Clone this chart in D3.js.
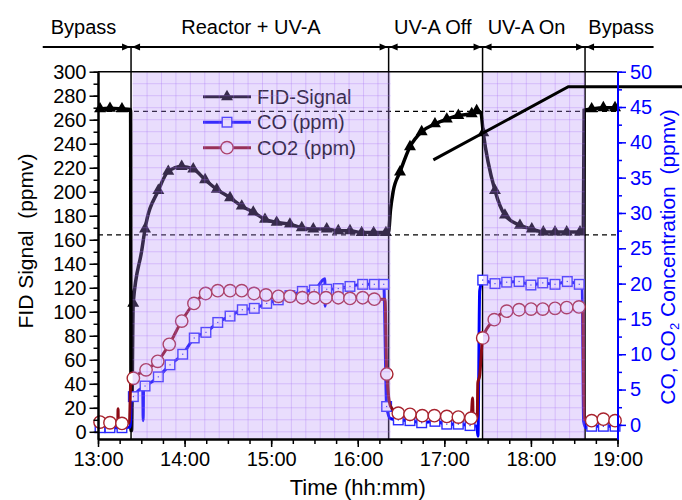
<!DOCTYPE html>
<html>
<head>
<meta charset="utf-8">
<script src="https://cdn.jsdelivr.net/npm/d3@7"></script>
<style>
  body { margin: 0; background: #fff; }
  svg { display: block; font-family: "Liberation Sans", Arial, sans-serif; }
</style>
</head>
<body>
<svg id="chart" width="682" height="500"></svg>
<script>
// all times are minutes after 13:00

// FID signal (left axis), points carrying a triangle
const fidT = [1.4, 8.3, 16.6,
  24.4, 32.6, 41.8, 48.7, 58, 66, 74.2, 82.3, 91.5, 99.6, 107.6, 115.7, 123.8, 133, 141.2, 149.2, 158.5, 166.5, 174.6, 182.7, 191, 199.5,
  209.3, 216.2, 224.3, 233.5, 241.7, 249.7, 259, 262.4,
  267, 275.1, 282, 292.4, 300.6, 308.6, 316.7, 324.8, 334,
  342.1, 350.2, 358.3];
const fidV = [269, 269.5, 269,
  107, 169, 201, 217, 221, 219, 210, 202, 195, 188, 183, 177, 174.5, 173, 170, 169, 169, 167.5, 167.5, 166, 166, 166,
  216.5, 237.5, 250, 256.5, 260.5, 263.5, 265, 267.5,
  249, 201, 180.5, 172, 169, 166.5, 166.5, 166.5, 166.5,
  269, 270, 270];
// FID line only points (switching edges)
const fidEdgeT = [0, 22.6, 22.9, 23.3, 30.3, 201.3, 202.7, 204.5, 265.3, 336.3, 336.9, 360];
const fidEdgeV = [268.5, 268.5, 1, 1, 151, 166, 185, 200, 266, 166.5, 268, 269];

// CO (right axis), points carrying a square
const coT = [1.4, 8.3, 16.6,
  24.5, 32.6, 41.8, 49.9, 58.7, 66.7, 74.8, 83, 91.5, 100, 108.3, 116.9, 124.9, 133, 141.6, 149.9, 158.5, 166.5, 174.6, 183.4, 191.5, 198, 200,
  208.1, 216.2, 224.3, 233.5, 241.7, 249.7, 257.8,
  266.6, 275.1, 283.2, 291.8, 300, 308.2, 316.7, 325.2, 333.5,
  342.1, 350.2, 358.3];
const coV = [-0.4, -0.4, -0.4,
  4.0, 5.5, 6.8, 8.5, 10.0, 12.3, 13.1, 14.5, 15.4, 16.3, 16.5, 17.2, 17.7, 18.3, 18.9, 19.1, 19.2, 19.3, 19.6, 19.9, 19.9, 19.9, 2.6,
  0.7, 0.6, 0.3, 0.5, 0.1, 0.1, -0.1,
  20.5, 20.0, 20.2, 20.3, 19.8, 20.1, 19.9, 20.3, 19.9,
  -0.2, -0.2, -0.2];
const coEdgeT = [0, 22.5, 23.0, 31.0, 31.3, 31.6, 157.2, 157.4, 157.6, 202.5, 262.5, 263.3, 264.5, 335.5, 336.5, 338, 360];
const coEdgeV = [-0.4, -0.3, 3.5, 5.2, 0.6, 5.4, 20.7, 16.8, 19.2, 0.9, -0.2, -1.6, 19, 19.8, 0.5, -0.4, -0.2];

// CO2 (right axis), points carrying a circle
const co2T = [1.4, 8.3, 16.6,
  24.5, 33.3, 41.4, 49.4, 58.0, 66.5, 74.6, 83.0, 91.5, 99.6, 108.1, 116.4, 125.0, 133.1, 141.6, 149.7, 158.0, 166.5, 174.6, 183.4, 191.5, 200.1,
  208.1, 216.2, 224.7, 233.1, 241.7, 249.7, 258.5,
  266.6, 274.6, 283.2, 291.8, 300.1, 308.2, 316.7, 324.8, 333.3,
  342.1, 350.2, 358.3];
const co2V = [0.4, 0.3, 0.2,
  6.6, 7.8, 9.0, 11.4, 14.7, 17.2, 18.6, 19.0, 19.0, 19.0, 18.6, 18.4, 18.2, 18.2, 18.0, 18.0, 18.0, 18.0, 17.9, 18.0, 17.8, 7.2,
  1.65, 1.5, 1.3, 1.3, 1.2, 1.1, 0.95,
  12.3, 14.9, 16.1, 16.3, 16.4, 16.4, 16.5, 16.6, 16.7,
  0.6, 0.8, 0.6];
const co2EdgeT = [0, 13.7, 13.9, 14.1, 21.8, 22.6, 198.9, 202.8, 259.6, 260, 262.8, 263.2, 264.5, 336.0, 336.8, 360];
const co2EdgeV = [0.4, 0.3, 2.3, 0.3, 0.3, 5.5, 17.8, 2.6, 3.8, 0.9, 0.9, 5.9, 7, 16.7, 0.8, 0.5];

// phases of the run
const phaseLabels = ["Bypass", "Reactor + UV-A", "UV-A Off", "UV-A On", "Bypass"];
const phaseLabelT = [-10, 106, 232, 297, 362.5];
const phaseBreaks = [22.9, 201.4, 266.5, 337.5];
const headerSpan = [-38.3, 385];
const shadeStart = [24.0, 266.8];
const shadeEnd = [202.7, 337.2];

// reference levels (FID) and the pointer line
const refLevels = [267, 164];
const pointerT = [232.4, 325.9, 406];
const pointerV = [226.5, 287.5, 287.5];

const xTicks = d3.range(0, 361, 60);
const leftTicks = d3.range(0, 301, 20);
const rightTicks = d3.range(0, 51, 5);

const plot = {left: 98, right: 617.5, top: 71.7, bottom: 439};

const svg = d3.select("#chart");

const x = d3.scaleLinear().domain([0, 360]).range([plot.left, plot.right]);
const yL = d3.scaleLinear().domain([-6, 300]).range([plot.bottom, plot.top]);
const yR = d3.scaleLinear().domain([-2, 50]).range([plot.bottom, plot.top]);

const zip = (t, v) => t.map((d, i) => ({t: d, v: v[i]}));
const withEdges = (t, v, et, ev) => zip(t, v).concat(zip(et, ev)).sort((a, b) => a.t - b.t);

// header with phase names and dividers
const hdrY = 47;
svg.append("line")
    .attr("x1", x(headerSpan[0])).attr("x2", x(headerSpan[1]))
    .attr("y1", hdrY).attr("y2", hdrY)
    .attr("stroke", "#000").attr("stroke-width", 2);

phaseBreaks.forEach(b => {
    let bx = x(b);
    svg.append("line")
        .attr("x1", bx).attr("x2", bx)
        .attr("y1", hdrY).attr("y2", plot.bottom)
        .attr("stroke", "#000").attr("stroke-width", 1.5);
    svg.append("path")
        .attr("d", `M${bx - 1},${hdrY}L${bx - 9},${hdrY - 3.5}L${bx - 9},${hdrY + 3.5}Z`);
    svg.append("path")
        .attr("d", `M${bx + 1},${hdrY}L${bx + 9},${hdrY - 3.5}L${bx + 9},${hdrY + 3.5}Z`);
});

svg.selectAll(".phase").data(phaseLabels).enter().append("text")
    .attr("class", "phase")
    .attr("x", (d, i) => x(phaseLabelT[i]))
    .attr("y", 34)
    .attr("text-anchor", "middle")
    .attr("font-size", 20)
    .text(d => d);

// dashed reference levels
svg.selectAll(".ref").data(refLevels).enter().append("line")
    .attr("x1", plot.left).attr("x2", plot.right)
    .attr("y1", d => yL(d)).attr("y2", d => yL(d))
    .attr("stroke", "#000").attr("stroke-width", 1.2)
    .attr("stroke-dasharray", "5,4");

// series
const fidData = withEdges(fidT, fidV, fidEdgeT, fidEdgeV);
const coData = withEdges(coT, coV, coEdgeT, coEdgeV);
const co2Data = withEdges(co2T, co2V, co2EdgeT, co2EdgeV);

const lineL = d3.line().x(d => x(d.t)).y(d => yL(d.v)).curve(d3.curveMonotoneX);
const lineR = d3.line().x(d => x(d.t)).y(d => yR(d.v)).curve(d3.curveMonotoneX);

const tri = d3.symbol(d3.symbolTriangle, 62);

svg.append("path").datum(fidData)
    .attr("d", lineL).attr("fill", "none")
    .attr("stroke", "#000").attr("stroke-width", 3.5);
svg.selectAll(".fid").data(zip(fidT, fidV)).enter().append("path")
    .attr("d", tri)
    .attr("transform", d => `translate(${x(d.t)},${yL(d.v)})`)
    .attr("fill", "#000");

svg.append("path").datum(coData)
    .attr("d", lineR).attr("fill", "none")
    .attr("stroke", "#0000ff").attr("stroke-width", 3);
let sq = svg.selectAll(".co").data(zip(coT, coV)).enter().append("g")
    .attr("transform", d => `translate(${x(d.t)},${yR(d.v)})`);
sq.append("rect")
    .attr("x", -4.8).attr("y", -4.8).attr("width", 9.6).attr("height", 9.6)
    .attr("fill", "#fff").attr("stroke", "#2a2aff").attr("stroke-width", 1.4);
sq.append("rect")
    .attr("x", -0.6).attr("y", -0.6).attr("width", 1.2).attr("height", 1.2)
    .attr("fill", "#2a2aff");

svg.append("path").datum(co2Data)
    .attr("d", lineR).attr("fill", "none")
    .attr("stroke", "#8c0a14").attr("stroke-width", 3);
svg.selectAll(".co2").data(zip(co2T, co2V)).enter().append("circle")
    .attr("cx", d => x(d.t)).attr("cy", d => yR(d.v)).attr("r", 6.2)
    .attr("fill", "#fff").attr("stroke", "#a8232e").attr("stroke-width", 1.4);

// legend
const legend = [
    {name: "FID-Signal", color: "#000", mark: "tri"},
    {name: "CO (ppm)", color: "#0000ff", mark: "sq"},
    {name: "CO2 (ppm)", color: "#a8232e", mark: "circ"}
];
let lg = svg.selectAll(".lg").data(legend).enter().append("g")
    .attr("transform", (d, i) => `translate(203,${96.7 + i * 25.5})`);
lg.append("line")
    .attr("x1", 0).attr("x2", 48)
    .attr("stroke", d => d.mark === "circ" ? "#8c0a14" : d.color)
    .attr("stroke-width", 3);
lg.filter(d => d.mark === "tri").append("path")
    .attr("d", tri).attr("transform", "translate(24,0)").attr("fill", "#000");
lg.filter(d => d.mark === "sq").append("rect")
    .attr("x", 19.2).attr("y", -4.8).attr("width", 9.6).attr("height", 9.6)
    .attr("fill", "#fff").attr("stroke", "#2a2aff").attr("stroke-width", 1.4);
lg.filter(d => d.mark === "circ").append("circle")
    .attr("cx", 24).attr("r", 6.2)
    .attr("fill", "#fff").attr("stroke", "#a8232e").attr("stroke-width", 1.4);
lg.append("text")
    .attr("x", 54).attr("y", 7)
    .attr("font-size", 20)
    .attr("fill", "#000")
    .text(d => d.name);

// translucent purple phases with their grid, laid over the data
shadeStart.forEach((s, i) => {
    let e = shadeEnd[i];
    let g = svg.append("g");
    g.append("rect")
        .attr("x", x(s)).attr("y", plot.top)
        .attr("width", x(e) - x(s)).attr("height", plot.bottom - plot.top)
        .attr("fill", "rgb(181,141,250)").attr("fill-opacity", 0.3);
    g.selectAll(".gv").data(d3.range(s + 10, e, 10)).enter().append("line")
        .attr("x1", d => x(d)).attr("x2", d => x(d))
        .attr("y1", plot.top).attr("y2", plot.bottom)
        .attr("stroke", "rgb(165,110,245)").attr("stroke-opacity", 0.3).attr("stroke-width", 1);
    g.selectAll(".gh").data(d3.range(290, -6, -10)).enter().append("line")
        .attr("x1", x(s)).attr("x2", x(e))
        .attr("y1", d => yL(d)).attr("y2", d => yL(d))
        .attr("stroke", "rgb(165,110,245)").attr("stroke-opacity", 0.3).attr("stroke-width", 1);
});

// pointer line
svg.append("path").datum(zip(pointerT, pointerV))
    .attr("d", d3.line().x(d => x(d.t)).y(d => yL(d.v)))
    .attr("fill", "none").attr("stroke", "#000").attr("stroke-width", 3);

// axes
svg.append("line")
    .attr("x1", plot.left).attr("x2", plot.right)
    .attr("y1", plot.top).attr("y2", plot.top)
    .attr("stroke", "#000").attr("stroke-width", 1.5);

function styleAxis(g, color, width){
    g.select(".domain").attr("stroke", color).attr("stroke-width", width);
    g.selectAll(".tick line").attr("stroke", color).attr("stroke-width", 1.5);
    g.selectAll(".tick text").attr("fill", color).attr("font-size", 20)
        .attr("font-family", "Liberation Sans, Arial, sans-serif");
}

// minor ticks first, majors on top
svg.append("g").attr("transform", `translate(0,${plot.bottom})`)
    .call(d3.axisBottom(x).tickValues(d3.range(0, 361, 15)).tickSize(5).tickSizeOuter(0).tickFormat(""))
    .call(g => styleAxis(g, "#000", 2));
svg.append("g").attr("transform", `translate(0,${plot.bottom})`)
    .call(d3.axisBottom(x).tickValues(xTicks).tickSize(8).tickSizeOuter(0).tickPadding(5)
        .tickFormat(m => (13 + m / 60) + ":00"))
    .call(g => styleAxis(g, "#000", 2));

svg.append("g").attr("transform", `translate(${plot.left},0)`)
    .call(d3.axisLeft(yL).tickValues(d3.range(0, 301, 10)).tickSize(4.5).tickSizeOuter(0).tickFormat(""))
    .call(g => styleAxis(g, "#000", 2));
svg.append("g").attr("transform", `translate(${plot.left},0)`)
    .call(d3.axisLeft(yL).tickValues(leftTicks).tickSize(8.5).tickSizeOuter(0).tickPadding(3))
    .call(g => styleAxis(g, "#000", 2));

svg.append("g").attr("transform", `translate(${plot.right},0)`)
    .call(d3.axisRight(yR).tickValues(d3.range(0, 50.1, 2.5)).tickSize(4.5).tickSizeOuter(0).tickFormat(""))
    .call(g => styleAxis(g, "#0000ff", 2));
svg.append("g").attr("transform", `translate(${plot.right},0)`)
    .call(d3.axisRight(yR).tickValues(rightTicks).tickSize(8.5).tickSizeOuter(0).tickPadding(4))
    .call(g => styleAxis(g, "#0000ff", 2));

// titles
svg.append("text")
    .attr("x", (plot.left + plot.right) / 2).attr("y", 495)
    .attr("text-anchor", "middle").attr("font-size", 22)
    .text("Time (hh:mm)");

svg.append("text")
    .attr("transform", "translate(33,241) rotate(-90)")
    .attr("text-anchor", "middle").attr("font-size", 21)
    .attr("xml:space", "preserve")
    .text("FID Signal  (ppmv)");

let rt = svg.append("text")
    .attr("transform", "translate(675,257) rotate(-90)")
    .attr("text-anchor", "middle").attr("font-size", 21)
    .attr("fill", "#0000ff")
    .attr("xml:space", "preserve");
rt.append("tspan").text("CO, CO");
rt.append("tspan").attr("font-size", 13).attr("dy", 4).text("2");
rt.append("tspan").attr("dy", -4).text(" Concentration  (ppmv)");
</script>
</body>
</html>
